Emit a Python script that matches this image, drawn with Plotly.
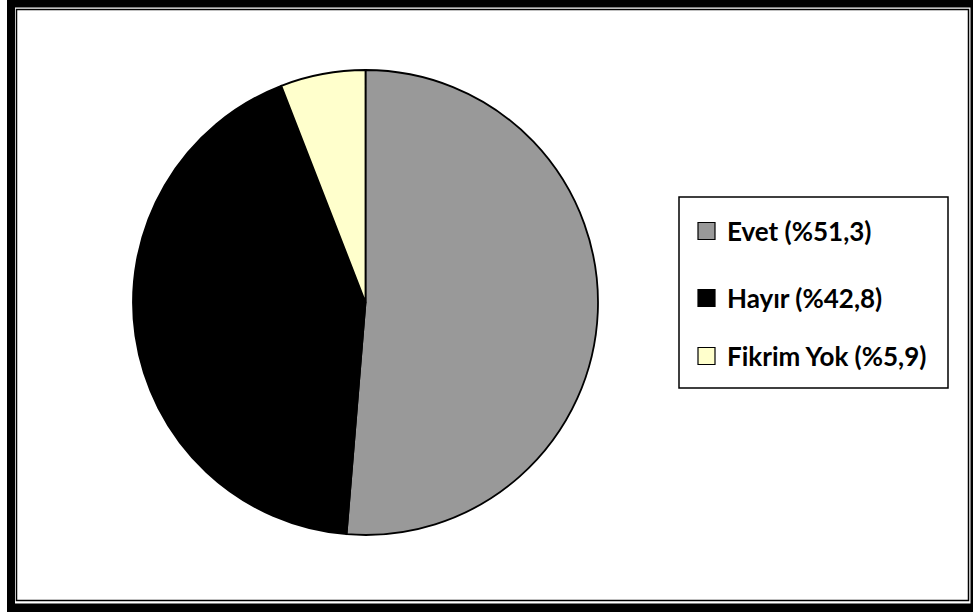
import plotly.graph_objects as go

labels = ["Evet (%51,3)", "Hayır (%42,8)", "Fikrim Yok (%5,9)"]
values = [51.3, 42.8, 5.9]
colors = ["#999999", "#000000", "#FFFFCC"]

W, H = 973, 612

def px(x):
    return x / W

def py(y):
    return 1 - y / H

fig = go.Figure(go.Pie(
    labels=labels,
    values=values,
    sort=False,
    direction="clockwise",
    rotation=0,
    marker=dict(colors=colors, line=dict(color="#000000", width=1.8)),
    textinfo="none",
    hoverinfo="none",
    showlegend=False,
    domain=dict(x=[px(133), px(598)], y=[py(535), py(70)]),
))

shapes = []
# outer thick frame bands
for (x0, y0, x1, y1) in [(7, 0, 973, 7.5), (7, 0, 15, 612), (7, 603.5, 973, 612), (970.5, 0, 973, 612)]:
    shapes.append(dict(type="rect", xref="paper", yref="paper",
                       x0=px(x0), x1=px(x1), y0=py(y1), y1=py(y0),
                       fillcolor="#000000", line=dict(width=0), layer="above"))
# inner thin frame
shapes.append(dict(type="rect", xref="paper", yref="paper",
                   x0=px(16.5), x1=px(968.5), y0=py(600.5), y1=py(9.5),
                   fillcolor="rgba(0,0,0,0)", line=dict(color="#000000", width=1.5)))
# legend box
shapes.append(dict(type="rect", xref="paper", yref="paper",
                   x0=px(679), x1=px(948), y0=py(388), y1=py(197),
                   fillcolor="#FFFFFF", line=dict(color="#000000", width=1.5)))

annotations = []
row_y = [231, 298, 356]
for lab, col, ry in zip(labels, colors, row_y):
    shapes.append(dict(type="rect", xref="paper", yref="paper",
                       x0=px(698), x1=px(715), y0=py(ry + 8.5), y1=py(ry - 8.5),
                       fillcolor=col, line=dict(color="#000000", width=1.2)))
    annotations.append(dict(xref="paper", yref="paper", x=px(725), y=py(ry),
                            xanchor="left", yanchor="middle", showarrow=False,
                            text="<b>" + lab + "</b>",
                            font=dict(family="Lato", size=26, color="#000000")))

fig.update_layout(
    width=W, height=H,
    margin=dict(l=0, r=0, t=0, b=0),
    paper_bgcolor="#FFFFFF",
    plot_bgcolor="#FFFFFF",
    shapes=shapes,
    annotations=annotations,
)

fig.write_html("out.html", config={"displayModeBar": False},
               post_script="document.body.style.margin='0';document.body.style.padding='0';")
